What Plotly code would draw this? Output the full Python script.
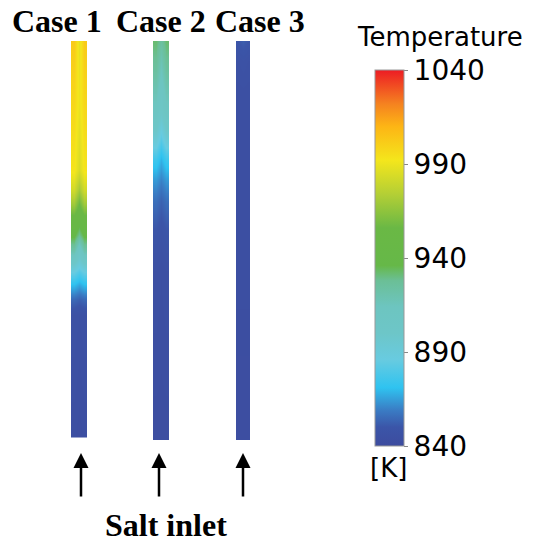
import plotly.graph_objects as go

W, H = 535, 542

# ---------------- data ----------------
cases = ["Case 1", "Case 2", "Case 3"]
radial = [-2/3, 0.0, 2/3]  # wall, centre, wall

# normalized height along tube (0 = salt inlet at bottom, 1 = top)
case1_height = [0.0, 0.31, 0.35, 0.384, 0.417, 0.442, 0.472, 0.51, 0.548, 0.586, 0.624, 0.674, 0.85, 1.0]
case1_center = [842, 845, 853, 866, 880, 893, 906, 928, 942, 955, 970, 984, 990, 988]
case1_wall   = [843, 846, 855, 870, 886, 902, 922, 938, 950, 968, 982, 993, 998, 1002]

case2_height = [0.0, 0.426, 0.526, 0.6, 0.652, 0.702, 0.739, 0.777, 0.827, 0.927, 1.0]
case2_center = [842, 844, 848, 853, 860, 868, 878, 888, 903, 915, 925]
case2_wall   = [842, 845, 850, 856, 864, 875, 888, 900, 912, 925, 932]

case3_height = [0.0, 0.85, 0.95, 1.0]
case3_center = [842, 844, 847, 852]
case3_wall   = [842, 844, 846, 850]

cbar_ticks = [840, 890, 940, 990, 1040]
t_min, t_max = 840, 1040

colorscale = [
    [0.0, "#3d4c9f"], [0.05, "#3b55a8"], [0.095, "#3a7cc4"], [0.155, "#2fc3f0"],
    [0.23, "#68cbe0"], [0.30, "#6dc6c8"], [0.37, "#6dc5c0"], [0.44, "#6bbf96"],
    [0.48, "#66b848"], [0.58, "#6ab845"], [0.67, "#b4cf35"], [0.76, "#f4e61c"],
    [0.85, "#fdb515"], [0.91, "#f58220"], [1.0, "#ed1c24"],
]

# ---------------- layout geometry (pixels) ----------------
tube_px = [(71, 87, 41, 437.5), (153, 169, 41, 440), (236, 250, 41, 440)]
label_px = [(57, 21), (161, 21), (260, 21)]
arrow_px = [81, 159, 243]


def px_x(x):
    return x / W


def px_y(y):
    return 1 - y / H


profiles = [
    (case1_height, case1_center, case1_wall),
    (case2_height, case2_center, case2_wall),
    (case3_height, case3_center, case3_wall),
]

fig = go.Figure()
layout = {}
for i, (hts, cen, wall) in enumerate(profiles):
    n = "" if i == 0 else str(i + 1)
    z = [[w, c, w] for c, w in zip(cen, wall)]
    fig.add_trace(go.Heatmap(
        x=radial, y=hts, z=z, zsmooth="best", coloraxis="coloraxis",
        xaxis="x" + n, yaxis="y" + n, hoverinfo="skip",
    ))
    x0, x1, ytop, ybot = tube_px[i]
    layout["xaxis" + n] = dict(domain=[px_x(x0), px_x(x1)], range=[-1, 1], visible=False,
                               anchor="y" + n, fixedrange=True)
    layout["yaxis" + n] = dict(domain=[px_y(ybot), px_y(ytop)], range=[0, 1], visible=False,
                               anchor="x" + n, fixedrange=True)


def label(x, y, text, family, size):
    return dict(x=px_x(x), y=px_y(y), xref="paper", yref="paper", xanchor="center",
                yanchor="middle", text=text, showarrow=False,
                font=dict(family=family, size=size, color="black"))


annotations = []
for (cx, cy), name in zip(label_px, cases):
    annotations.append(label(cx, cy, "<b>" + name + "</b>", "Liberation Serif", 32))
for ax_ in arrow_px:
    annotations.append(dict(x=px_x(ax_), y=px_y(453), xref="paper", yref="paper",
                            text="", showarrow=True, ax=0, ay=45, arrowhead=2,
                            arrowsize=1.2, arrowwidth=2.5, arrowcolor="black", standoff=0))
annotations.append(label(166, 525, "<b>Salt inlet</b>", "Liberation Serif", 32))
annotations.append(label(440, 37, "Temperature", "DejaVu Sans", 26))
annotations.append(label(388, 468, "[K]", "DejaVu Sans", 26))

fig.update_layout(
    width=W, height=H, margin=dict(l=0, r=0, t=0, b=0),
    paper_bgcolor="white", plot_bgcolor="white", showlegend=False,
    coloraxis=dict(
        cmin=t_min, cmax=t_max, colorscale=colorscale,
        colorbar=dict(
            x=px_x(375), xanchor="left", xpad=0, ypad=0,
            y=px_y((70 + 446) / 2), yanchor="middle",
            thickness=29, thicknessmode="pixels", len=376, lenmode="pixels",
            tickvals=cbar_ticks, ticktext=[str(t) for t in cbar_ticks],
            ticks="outside", ticklen=4, tickcolor="#888",
            outlinecolor="#999", outlinewidth=1,
            tickfont=dict(family="DejaVu Sans", size=28, color="black"),
        ),
    ),
    annotations=annotations,
    **layout,
)

fig.write_html("out.html", config={"displayModeBar": False},
               post_script="document.body.style.margin='0';")
